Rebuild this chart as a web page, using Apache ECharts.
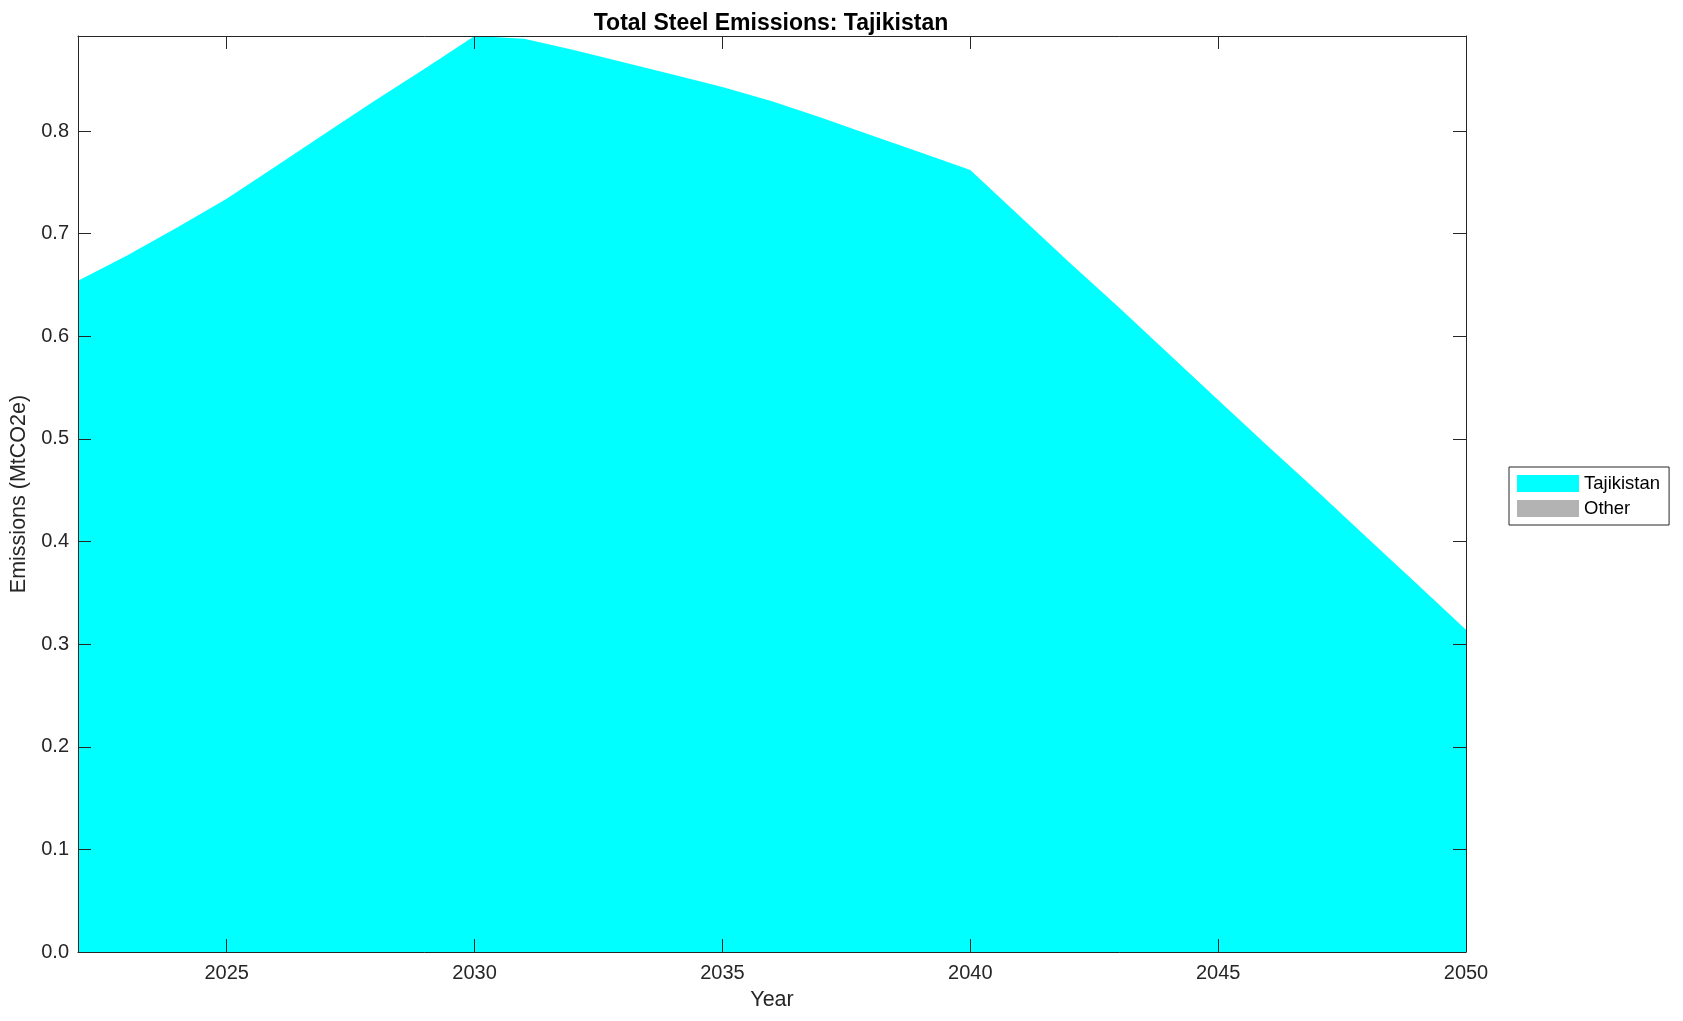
<!DOCTYPE html>
<html>
<head>
<meta charset="utf-8">
<script src="https://cdn.jsdelivr.net/npm/echarts@6/dist/echarts.min.js"></script>
<style>
html,body{margin:0;padding:0;background:#fff;}
#chart{width:1683px;height:1021px;}
</style>
</head>
<body>
<div id="chart"></div>
<script>
const years = [2022,2023,2024,2025,2026,2027,2028,2029,2030,2031,2032,2033,2034,2035,2036,2037,2038,2039,2040,2041,2042,2043,2044,2045,2046,2047,2048,2049,2050];
const tajikistan = [0.654,0.679,0.706,0.734,0.766,0.798,0.830,0.861,0.8926,0.890,0.879,0.867,0.855,0.843,0.829,0.813,0.796,0.779,0.762,0.717,0.672,0.628,0.583,0.538,0.493,0.449,0.404,0.359,0.314];
const other = [0,0,0,0,0,0,0,0,0,0,0,0,0,0,0,0,0,0,0,0,0,0,0,0,0,0,0,0,0];
const xTicks = [2025,2030,2035,2040,2045,2050];
const yTicks = [0,0.1,0.2,0.3,0.4,0.5,0.6,0.7,0.8];
const titleText = 'Total Steel Emissions: Tajikistan';
const xName = 'Year';
const yName = 'Emissions (MtCO2e)';

const FONT = 'Helvetica, Arial, "Liberation Sans", sans-serif';
const INK = '#262626';
const yMax = 0.8926;

const chart = echarts.init(document.getElementById('chart'), null, {renderer:'canvas'});

const axisLineStyle = {show:true, onZero:false, lineStyle:{color:INK, width:1}};
const tickStyle = {show:true, inside:true, length:13, lineStyle:{color:INK, width:1}};

chart.setOption({
  animation:false,
  backgroundColor:'#fff',
  title:{
    text:titleText,
    left:766, top:7, textAlign:'center',
    textStyle:{fontFamily:FONT, fontWeight:'bold', fontSize:23, color:'#000'}
  },
  grid:{left:77, right:217, top:36, bottom:69, containLabel:false},
  legend:{
    orient:'vertical',
    left:1509, top:467,
    padding:[7,9,7,8],
    itemGap:6,
    itemWidth:62, itemHeight:17,
    icon:'rect',
    borderColor:INK, borderWidth:1,
    backgroundColor:'#fff',
    textStyle:{fontFamily:FONT, fontSize:18.5, color:'#000'},
    data:['Tajikistan','Other']
  },
  xAxis:[
    {type:'value', min:2022, max:2050, position:'bottom', z:10,
     name:xName, nameLocation:'middle', nameGap:37,
     nameTextStyle:{fontFamily:FONT, fontSize:21.5, color:INK},
     axisLine:axisLineStyle,
     axisTick:Object.assign({}, tickStyle, {customValues:xTicks}),
     axisLabel:{customValues:xTicks, fontFamily:FONT, fontSize:20, color:INK, margin:11,
                formatter:v=>String(v)},
     splitLine:{show:false}},
    {type:'value', min:2022, max:2050, position:'top', z:10,
     axisLine:axisLineStyle,
     axisTick:Object.assign({}, tickStyle, {customValues:xTicks}),
     axisLabel:{show:false}, splitLine:{show:false}}
  ],
  yAxis:[
    {type:'value', min:0, max:yMax, position:'left', z:10,
     name:yName, nameLocation:'middle', nameGap:48,
     nameTextStyle:{fontFamily:FONT, fontSize:21.5, color:INK},
     axisLine:axisLineStyle,
     axisTick:Object.assign({}, tickStyle, {customValues:yTicks}),
     axisLabel:{customValues:yTicks, fontFamily:FONT, fontSize:20, color:INK, margin:9,
                formatter:v=>Number(v).toFixed(1)},
     splitLine:{show:false}},
    {type:'value', min:0, max:yMax, position:'right', z:10,
     axisLine:axisLineStyle,
     axisTick:Object.assign({}, tickStyle, {customValues:yTicks}),
     axisLabel:{show:false}, splitLine:{show:false}}
  ],
  series:[
    {name:'Tajikistan', type:'line', stack:'total', showSymbol:false, symbol:'none',
     data:years.map((y,i)=>[y, tajikistan[i]]),
     lineStyle:{width:0}, itemStyle:{color:'#00ffff'},
     areaStyle:{color:'#00ffff', opacity:1}, z:1},
    {name:'Other', type:'line', stack:'total', showSymbol:false, symbol:'none',
     data:years.map((y,i)=>[y, other[i]]),
     lineStyle:{width:0}, itemStyle:{color:'#b3b3b3'},
     areaStyle:{color:'#b3b3b3', opacity:1}, z:1}
  ]
});
</script>
</body>
</html>
